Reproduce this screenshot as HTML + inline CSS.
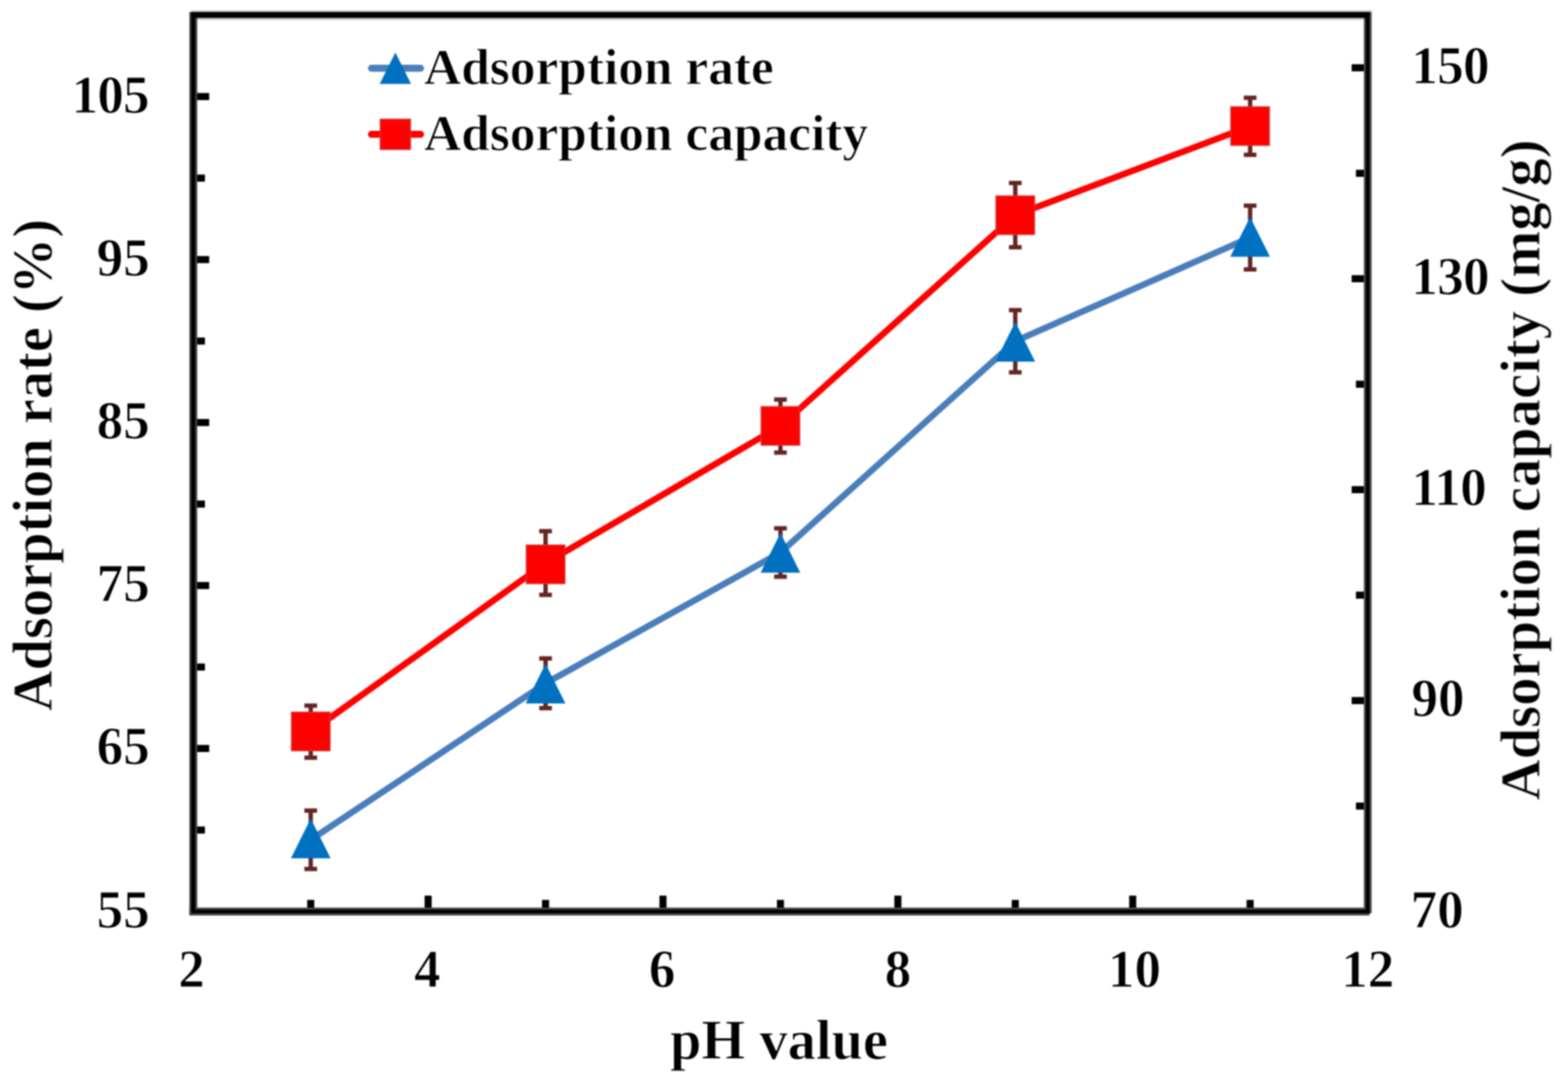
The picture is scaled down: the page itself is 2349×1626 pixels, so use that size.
<!DOCTYPE html>
<html lang="en"><head><meta charset="utf-8">
<title>Adsorption rate and adsorption capacity versus pH value</title>
<style>
html,body{margin:0;padding:0;background:#fff;}
body{width:2349px;height:1626px;overflow:hidden;}
svg{display:block;}
text{font-family:"Liberation Serif", serif;font-weight:bold;fill:#000;stroke:#fff;stroke-width:1.2px;stroke-linejoin:round;}
.tick{font-size:79.6px;}
.leg{font-size:77px;}
.title{font-size:84.5px;}
</style></head><body>
<svg width="2349" height="1626" viewBox="0 0 2349 1626" role="img" aria-label="Adsorption rate and adsorption capacity versus pH value">
<rect x="0" y="0" width="2349" height="1626" fill="#ffffff"/>
<defs><filter id="soft" x="0" y="0" width="2349" height="1626" filterUnits="userSpaceOnUse" color-interpolation-filters="sRGB"><feGaussianBlur stdDeviation="1"/></filter></defs>
<g id="chart" filter="url(#soft)">
<g stroke="#000" stroke-width="10.6" fill="none">
<line x1="289.6" y1="1243.9" x2="307.0" y2="1243.9"/>
<line x1="289.6" y1="1121.7" x2="313.4" y2="1121.7"/>
<line x1="289.6" y1="999.6" x2="307.0" y2="999.6"/>
<line x1="289.6" y1="877.5" x2="313.4" y2="877.5"/>
<line x1="289.6" y1="755.4" x2="307.0" y2="755.4"/>
<line x1="289.6" y1="633.2" x2="313.4" y2="633.2"/>
<line x1="289.6" y1="511.1" x2="307.0" y2="511.1"/>
<line x1="289.6" y1="389.0" x2="313.4" y2="389.0"/>
<line x1="289.6" y1="266.9" x2="307.0" y2="266.9"/>
<line x1="289.6" y1="144.7" x2="313.4" y2="144.7"/>
<line x1="2048.7" y1="1208.0" x2="2031.3" y2="1208.0"/>
<line x1="2048.7" y1="1049.9" x2="2024.9" y2="1049.9"/>
<line x1="2048.7" y1="891.9" x2="2031.3" y2="891.9"/>
<line x1="2048.7" y1="733.8" x2="2024.9" y2="733.8"/>
<line x1="2048.7" y1="575.8" x2="2031.3" y2="575.8"/>
<line x1="2048.7" y1="417.7" x2="2024.9" y2="417.7"/>
<line x1="2048.7" y1="259.7" x2="2031.3" y2="259.7"/>
<line x1="2048.7" y1="101.6" x2="2024.9" y2="101.6"/>
<line x1="465.5" y1="1366.0" x2="465.5" y2="1348.6"/>
<line x1="641.4" y1="1366.0" x2="641.4" y2="1342.2"/>
<line x1="817.3" y1="1366.0" x2="817.3" y2="1348.6"/>
<line x1="993.2" y1="1366.0" x2="993.2" y2="1342.2"/>
<line x1="1169.2" y1="1366.0" x2="1169.2" y2="1348.6"/>
<line x1="1345.1" y1="1366.0" x2="1345.1" y2="1342.2"/>
<line x1="1521.0" y1="1366.0" x2="1521.0" y2="1348.6"/>
<line x1="1696.9" y1="1366.0" x2="1696.9" y2="1342.2"/>
<line x1="1872.8" y1="1366.0" x2="1872.8" y2="1348.6"/>
</g>
<polyline points="465.5,1258.5 817.3,1024.0 1169.2,828.0 1521.0,511.4 1872.8,355.9" fill="none" stroke="#4a7ebb" stroke-width="9.6" stroke-linejoin="round" stroke-linecap="round"/>
<polyline points="465.5,1096.5 817.3,843.9 1169.2,638.5 1521.0,322.5 1872.8,189.2" fill="none" stroke="#ff0000" stroke-width="9.6" stroke-linejoin="round" stroke-linecap="round"/>
<path d="M465.5 1214.7V1302.3M456.0 1214.7h19M456.0 1302.3h19" fill="none" stroke="#632523" stroke-width="6.5"/>
<path d="M817.3 986.8V1061.2M807.8 986.8h19M807.8 1061.2h19" fill="none" stroke="#632523" stroke-width="6.5"/>
<path d="M1169.2 791.8V864.3M1159.7 791.8h19M1159.7 864.3h19" fill="none" stroke="#632523" stroke-width="6.5"/>
<path d="M1521.0 464.7V558.0M1511.5 464.7h19M1511.5 558.0h19" fill="none" stroke="#632523" stroke-width="6.5"/>
<path d="M1872.8 308.2V403.7M1863.3 308.2h19M1863.3 403.7h19" fill="none" stroke="#632523" stroke-width="6.5"/>
<path d="M465.5 1226.7L495.3 1286.2L435.8 1286.2Z" fill="#0070c0"/>
<path d="M817.3 994.8L847.1 1054.2L787.6 1054.2Z" fill="#0070c0"/>
<path d="M1169.2 798.8L1198.9 858.2L1139.4 858.2Z" fill="#0070c0"/>
<path d="M1521.0 482.6L1550.7 542.1L1491.2 542.1Z" fill="#0070c0"/>
<path d="M1872.8 325.2L1902.5 384.8L1843.0 384.8Z" fill="#0070c0"/>
<path d="M465.5 1057.5V1135.6M456.0 1057.5h19M456.0 1135.6h19" fill="none" stroke="#632523" stroke-width="6.5"/>
<path d="M817.3 796.1V891.6M807.8 796.1h19M807.8 891.6h19" fill="none" stroke="#632523" stroke-width="6.5"/>
<path d="M1169.2 598.8V678.3M1159.7 598.8h19M1159.7 678.3h19" fill="none" stroke="#632523" stroke-width="6.5"/>
<path d="M1521.0 274.3V370.6M1511.5 274.3h19M1511.5 370.6h19" fill="none" stroke="#632523" stroke-width="6.5"/>
<path d="M1872.8 146.4V232.0M1863.3 146.4h19M1863.3 232.0h19" fill="none" stroke="#632523" stroke-width="6.5"/>
<rect x="436.6" y="1067.2" width="57.9" height="57.9" fill="#ff0000" stroke="#d23a3a" stroke-width="1.6"/>
<rect x="788.4" y="816.8" width="57.9" height="57.9" fill="#ff0000" stroke="#d23a3a" stroke-width="1.6"/>
<rect x="1140.2" y="609.3" width="57.9" height="57.9" fill="#ff0000" stroke="#d23a3a" stroke-width="1.6"/>
<rect x="1492.0" y="293.6" width="57.9" height="57.9" fill="#ff0000" stroke="#d23a3a" stroke-width="1.6"/>
<rect x="1843.8" y="160.0" width="57.9" height="57.9" fill="#ff0000" stroke="#d23a3a" stroke-width="1.6"/>
<rect x="286.3" y="15.4" width="1768.6" height="14.4" fill="#c6c6c6"/>
<rect x="283.7" y="18.0" width="11.8" height="1354.0" fill="#444444"/>
<rect x="283.7" y="1360.1" width="1768.1" height="11.9" fill="#4a4a4a"/>
<rect x="2043.1" y="18.0" width="11.8" height="1350.7" fill="#505050"/>
<rect x="286.3" y="18.0" width="1765.5" height="8.8" fill="#000"/>
<rect x="286.3" y="18.0" width="6.2" height="1350.7" fill="#000"/>
<rect x="286.3" y="1363.2" width="1765.5" height="5.5" fill="#000"/>
<rect x="2045.9" y="18.0" width="5.9" height="1350.7" fill="#000"/>
<line x1="556.5" y1="102.3" x2="630.0" y2="102.3" stroke="#4a7ebb" stroke-width="10.6" stroke-linecap="round"/>
<path d="M592.3 78.8L615.8 125.8L568.8 125.8Z" fill="#0070c0"/>
<line x1="556.5" y1="201.3" x2="630.0" y2="201.3" stroke="#ff0000" stroke-width="10.6" stroke-linecap="round"/>
<rect x="569.6" y="178.6" width="45.4" height="45.4" fill="#ff0000" stroke="#d23a3a" stroke-width="1.6"/>
<text class="leg" x="635.3" y="125.6">Adsorption rate</text>
<text class="leg" x="635.3" y="224.5">Adsorption capacity</text>
<text class="tick" x="224.4" y="1389.7" text-anchor="end">55</text>
<text class="tick" x="224.4" y="1145.4" text-anchor="end">65</text>
<text class="tick" x="224.4" y="901.2" text-anchor="end">75</text>
<text class="tick" x="224.4" y="656.9" text-anchor="end">85</text>
<text class="tick" x="224.4" y="412.7" text-anchor="end">95</text>
<text class="tick" x="222.8" y="169.3" text-anchor="end" letter-spacing="-1.3">105</text>
<text class="tick" x="2113.2" y="1389.5">70</text>
<text class="tick" x="2114.5" y="1073.4">90</text>
<text class="tick" x="2114.2" y="757.3" letter-spacing="-1.0">110</text>
<text class="tick" x="2114.2" y="441.2" letter-spacing="-1.0">130</text>
<text class="tick" x="2114.2" y="125.1" letter-spacing="-1.0">150</text>
<text class="tick" x="286.9" y="1478.9" text-anchor="middle">2</text>
<text class="tick" x="640.2" y="1478.9" text-anchor="middle">4</text>
<text class="tick" x="991.9" y="1478.9" text-anchor="middle">6</text>
<text class="tick" x="1345.2" y="1478.9" text-anchor="middle">8</text>
<text class="tick" x="1699.5" y="1478.9" text-anchor="middle">10</text>
<text class="tick" x="2049.1" y="1478.9" text-anchor="middle">12</text>
<text class="title" x="1167" y="1586.5" text-anchor="middle">pH value</text>
<text class="title" style="font-size:84.6px" transform="translate(77.4 697.0) rotate(-90)" text-anchor="middle">Adsorption rate (%)</text>
<text class="title" style="font-size:84.9px" transform="translate(2306.3 704.2) rotate(-90)" text-anchor="middle">Adsorption capacity (mg/g)</text>
</g></svg>
</body></html>
